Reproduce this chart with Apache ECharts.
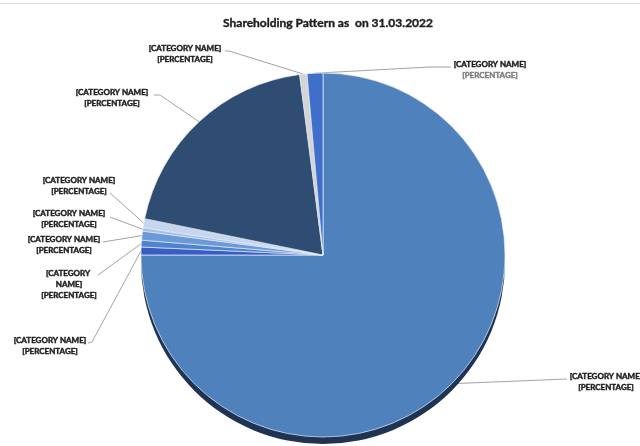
<!DOCTYPE html>
<html>
<head>
<meta charset="utf-8">
<script src="https://cdn.jsdelivr.net/npm/echarts@6/dist/echarts.min.js"></script>
<style>
  html, body { margin: 0; padding: 0; background: #ffffff; }
  #chart { width: 640px; height: 446px; }
</style>
</head>
<body>
<div id="chart"></div>
<script>
// Shareholding pattern (share of total, %), clockwise from 12 o'clock
const chartTitle = 'Shareholding Pattern as  on 31.03.2022';
const categories = [
  '[CATEGORY NAME]', '[CATEGORY NAME]', '[CATEGORY NAME]',
  '[CATEGORY NAME]', '[CATEGORY NAME]', '[CATEGORY NAME]',
  '[CATEGORY NAME]', '[CATEGORY NAME]', '[CATEGORY NAME]'
];
const shares = [75.0, 0.7, 0.6, 0.8, 0.3, 0.8, 19.75, 0.65, 1.4];
const percentText = '[PERCENTAGE]';

const sliceColors = ['#4F81BD', '#3A5CC6', '#4E84CE', '#6C99D8', '#A7C0E6',
                     '#C6D6EE', '#2F4D72', '#D4D4D4', '#3F6FCB'];

// Where each data label sits (text centre) and how its leader line bends
const labelSpots = [
  { c: [606, 382], path: [[567, 379]] },
  { c: [50, 346],  path: [[92, 342], [88, 343]] },
  { c: [69, 284],  path: [[98, 275]] },
  { c: [64, 245],  path: [[103, 242]] },
  { c: [69, 219],  path: [[110, 217]] },
  { c: [79, 186],  path: [[110, 193]] },
  { c: [112, 98],  path: [[160, 95], [154, 95]] },
  { c: [185, 54],  path: [[229, 51], [225, 51]] },
  { c: [490, 70],  path: [[430, 67], [451, 67]] }
];

const CX = 323, CY = 255, R = 182;
const FONT = 'Lato, "Liberation Sans", sans-serif';
const INK = '#1e1e1e';

// bold label text, with a hairline outline in the same ink for weight
function labelText(color) {
  return {
    fontFamily: FONT, fontWeight: 'bold', fontSize: 8, lineHeight: 11,
    color: color, textBorderColor: color, textBorderWidth: 0.45, align: 'center'
  };
}

const pieData = shares.map((v, i) => {
  const item = {
    value: v,
    name: categories[i],
    itemStyle: { color: sliceColors[i] }
  };
  if (i === 2) {
    item.label = { width: 62, overflow: 'break' };
  }
  if (i === 8) {
    item.label = { formatter: '{n|{b}}\n{g|' + percentText + '}' };
  }
  return item;
});

const chart = echarts.init(document.getElementById('chart'), null, { renderer: 'canvas' });

chart.setOption({
  backgroundColor: '#ffffff',
  animation: false,
  title: {
    text: chartTitle,
    left: 323,
    top: 12,
    textAlign: 'center',
    textStyle: {
      fontFamily: FONT, fontWeight: 'bold', fontSize: 12, color: INK,
      textBorderColor: INK, textBorderWidth: 0.4
    }
  },
  graphic: [{
    type: 'line',
    shape: { x1: 0, y1: 3.5, x2: 640, y2: 3.5 },
    style: { stroke: '#d9d9d9', lineWidth: 1 },
    silent: true
  }],
  series: [
    {
      // depth rim of the tilted pie
      type: 'pie',
      silent: true,
      center: [CX, CY + 7],
      radius: R,
      startAngle: 90,
      clockwise: true,
      label: { show: false },
      labelLine: { show: false },
      itemStyle: { color: '#1F3352', borderWidth: 0 },
      data: shares.map((v, i) => ({ value: v, name: categories[i] }))
    },
    {
      type: 'pie',
      center: [CX, CY],
      radius: R,
      startAngle: 90,
      clockwise: true,
      avoidLabelOverlap: false,
      itemStyle: { borderColor: 'rgba(235,241,250,0.85)', borderWidth: 0.8 },
      label: Object.assign({
        show: true,
        position: 'outside',
        formatter: '{b}\n' + percentText,
        rich: {
          n: labelText(INK),
          g: labelText('#7f7f7f')
        }
      }, labelText(INK)),
      labelLine: {
        show: true,
        lineStyle: { color: '#8c8c8c', width: 0.8 }
      },
      labelLayout: function (params) {
        const spot = labelSpots[params.dataIndex];
        if (!spot) return {};
        const start = params.labelLinePoints ? params.labelLinePoints[0] : spot.path[0];
        const pts = [start].concat(spot.path);
        while (pts.length < 3) pts.push(pts[pts.length - 1]);
        return {
          x: spot.c[0],
          y: spot.c[1],
          align: 'center',
          verticalAlign: 'middle',
          labelLinePoints: pts.slice(0, 3)
        };
      },
      data: pieData
    }
  ]
});
</script>
</body>
</html>
